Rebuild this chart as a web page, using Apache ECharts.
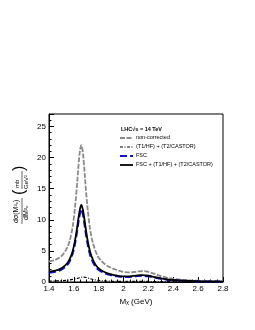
<!DOCTYPE html>
<html><head><meta charset="utf-8">
<script src="https://cdn.jsdelivr.net/npm/echarts@6/dist/echarts.min.js"></script>
<style>html,body{margin:0;padding:0;background:#fff}#c{width:255px;height:330px}</style>
</head><body><div id="c"></div>
<script>
const mx = [1.40,1.45,1.50,1.55,1.58,1.60,1.62,1.64,1.65,1.66,1.67,1.68,1.70,1.72,1.74,1.77,1.80,1.85,1.90,1.95,2.00,2.05,2.10,2.15,2.20,2.25,2.30,2.35,2.40,2.50,2.60,2.70,2.80];
const nonCorrected = [3.3,3.55,4.15,5.67,7.8,10.3,14.3,19.3,21.2,22.0,21.2,19.2,14.1,10.1,7.4,5.2,3.9,2.85,2.27,1.9,1.62,1.55,1.65,1.75,1.62,1.3,0.95,0.68,0.5,0.3,0.2,0.13,0.08];
const t1t2 = [0.15,0.18,0.22,0.3,0.38,0.45,0.55,0.65,0.72,0.76,0.78,0.78,0.72,0.6,0.48,0.35,0.25,0.17,0.12,0.1,0.09,0.09,0.1,0.1,0.09,0.07,0.06,0.05,0.04,0.03,0.02,0.02,0.01];
const fsc = [1.5,1.64,1.97,2.8,3.93,5.28,7.38,10.0,11.06,11.7,11.1,10.0,7.3,5.17,3.78,2.58,1.94,1.39,1.1,0.92,0.82,0.82,0.92,1.0,0.92,0.72,0.52,0.38,0.28,0.17,0.11,0.07,0.05];
const fscAll = [1.65,1.82,2.19,3.1,4.31,5.73,7.93,10.65,11.8,12.4,11.85,10.75,8.0,5.75,4.25,2.92,2.18,1.56,1.22,1.02,0.91,0.91,1.02,1.1,1.01,0.79,0.58,0.43,0.32,0.2,0.13,0.09,0.06];
const xTicks = ['1.4','1.6','1.8','2','2.2','2.4','2.6','2.8'];
const yTicks = ['0','5','10','15','20','25'];
const seriesNames = ['non-corrected','(T1/HF) + (T2/CASTOR)','FSC','FSC + (T1/HF) + (T2/CASTOR)'];

const pair = a => mx.map((x,i)=>[x,a[i]]);
const chart = echarts.init(document.getElementById('c'));
const F = 'Liberation Sans, Arial, sans-serif';
const styles = [
  {color:'#8a8a8a',width:1.8,type:[5,1.5]},
  {color:'#000',width:1.2,type:[3,1.5,1,1.5]},
  {color:'#1010e0',width:2,type:[7,3]},
  {color:'#000',width:1.8,type:'solid'}
];
const dataSets = [nonCorrected,t1t2,fsc,fscAll];
const order = [0,1,3,2];
const series = order.map(k=>({name:seriesNames[k],type:'line',smooth:0.35,symbol:'none',data:pair(dataSets[k]),lineStyle:styles[k],z:2+k}));
const legendGraphics = [{type:'text',left:121,top:126,style:{text:'LHC\u221As = 14 TeV',fontSize:5.5,fontWeight:'bold',fontFamily:F,fill:'#000'}}];
seriesNames.forEach((n,i)=>{
  const y = 138 + i*9;
  legendGraphics.push({type:'line',shape:{x1:120,y1:y,x2:133,y2:y},style:{stroke:styles[i].color,lineWidth:styles[i].width,lineDash:Array.isArray(styles[i].type)?styles[i].type:null}});
  legendGraphics.push({type:'text',x:136,y:y-3.2,style:{text:n,fontSize:5.5,fontFamily:F,fill:'#000'}});
});
chart.setOption({
  animation:false,
  grid:{left:49,right:32,top:114,bottom:48,show:true,borderColor:'#000',borderWidth:1},
  xAxis:{type:'value',min:1.4,max:2.8,interval:0.2,
    axisLine:{show:true,onZero:false,lineStyle:{color:'#000',width:1}},
    axisTick:{inside:true,length:5,lineStyle:{color:'#000'}},
    minorTick:{show:true,splitNumber:4,length:2.5,lineStyle:{color:'#000'}},
    splitLine:{show:false},
    axisLabel:{color:'#000',fontSize:8,fontFamily:F,margin:3,formatter:v=>{const i=Math.round((v-1.4)/0.2);return xTicks[i]||'';}},
    name:'M\u2093 (GeV)',nameLocation:'middle',nameGap:13,nameTextStyle:{color:'#000',fontSize:8,fontFamily:F}},
  yAxis:{type:'value',min:0,max:27,interval:5,
    axisLine:{show:true,onZero:false,lineStyle:{color:'#000',width:1}},
    axisTick:{inside:true,length:5,lineStyle:{color:'#000'}},
    minorTick:{show:true,splitNumber:5,length:2.5,lineStyle:{color:'#000'}},
    splitLine:{show:false},
    axisLabel:{color:'#000',fontSize:8,fontFamily:F,margin:3,showMaxLabel:false,formatter:v=>{const i=Math.round(v/5);return (Math.abs(v-i*5)<1e-6&&yTicks[i])?yTicks[i]:'';}}},
  series:series,
  graphic:legendGraphics.concat([
    {type:'group',x:23,y:196,rotation:Math.PI/2,children:[
      {type:'text',x:-27,y:-10,style:{text:'d\u03C3(M\u00B2\u2093)',fontSize:7,fontFamily:F,fill:'#000'}},
      {type:'line',shape:{x1:-28,y1:-1,x2:-2,y2:-1},style:{stroke:'#000',lineWidth:0.6}},
      {type:'text',x:-24,y:0,style:{text:'dM\u00B2\u2093',fontSize:7,fontFamily:F,fill:'#000'}},
      {type:'text',x:1,y:-11,style:{text:'(',fontSize:16,fontFamily:F,fill:'#000'}},
      {type:'text',x:8,y:-9,style:{text:'mb',fontSize:6,fontFamily:F,fill:'#000'}},
      {type:'line',shape:{x1:7,y1:-1,x2:25,y2:-1},style:{stroke:'#000',lineWidth:0.6}},
      {type:'text',x:7,y:0,style:{text:'GeV\u00B2',fontSize:6,fontFamily:F,fill:'#000'}},
      {type:'text',x:25,y:-11,style:{text:')',fontSize:16,fontFamily:F,fill:'#000'}}
    ]}
  ])
});
</script></body></html>
